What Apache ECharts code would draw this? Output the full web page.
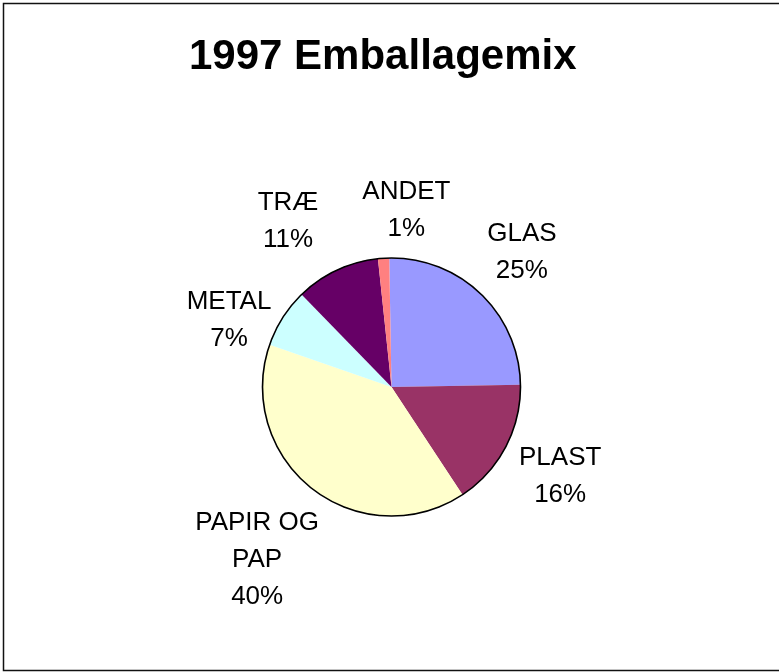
<!DOCTYPE html>
<html>
<head>
<meta charset="utf-8">
<script src="https://cdn.jsdelivr.net/npm/echarts@6/dist/echarts.min.js"></script>
<style>
html,body{margin:0;padding:0;background:#fff;}
#chart{width:779px;height:672px;}
</style>
</head>
<body>
<div id="chart"></div>
<script>
const titleText = '1997 Emballagemix';
const categories = ['GLAS', 'PLAST', 'PAPIR OG PAP', 'METAL', 'TRÆ', 'ANDET'];
const values = [25.0, 16.0, 39.6, 7.4, 10.6, 1.4];
const colors = ['#9999FF', '#993366', '#FFFFCC', '#CCFFFF', '#660066', '#FF8080'];

const chart = echarts.init(document.getElementById('chart'), null, {renderer: 'canvas'});
const data = categories.map((c, i) => ({name: c, value: values[i], itemStyle: {color: colors[i]}}));
const cx = 391.5, cy = 387, R = 129, GAP = 8, GAP_X = 44, GAP_Y = 25;

function wrapName(name) {
  if (name.length <= 8) return name;
  const k = name.lastIndexOf(' ');
  return k > 0 ? name.slice(0, k) + '\n' + name.slice(k + 1) : name;
}

const store = {};
let resolved = null;

function resolveOverlaps(s) {
  const ids = Object.keys(s);
  const L = ids.map(id => Object.assign({id: id}, s[id]));
  for (let it = 0; it < 6; it++) {
    for (let a = 0; a < L.length; a++) {
      for (let b = a + 1; b < L.length; b++) {
        const A = L[a], B = L[b];
        const aTop = A.uy < -0.8, bTop = B.uy < -0.8;
        const yOver = Math.min(A.y + A.h / 2, B.y + B.h / 2) - Math.max(A.y - A.h / 2, B.y - B.h / 2);
        const xGap = Math.max(A.x - A.w / 2, B.x - B.w / 2) - Math.min(A.x + A.w / 2, B.x + B.w / 2);
        if (aTop && bTop) {
          if (yOver > 0 && xGap < GAP_X) {
            const d = (GAP_X - xGap) / 2;
            const left = A.x < B.x ? A : B, right = A.x < B.x ? B : A;
            left.x -= d; right.x += d;
          }
        } else if (aTop !== bTop) {
          const T = aTop ? A : B, S = aTop ? B : A;
          if (xGap < 10) {
            const yGap = S.y > T.y ? (S.y - S.h / 2) - (T.y + T.h / 2) : (T.y - T.h / 2) - (S.y + S.h / 2);
            if (yGap < GAP_Y) {
              S.y += (S.y > T.y ? 1 : -1) * (GAP_Y - yGap);
            }
          }
        }
      }
    }
  }
  const out = {};
  L.forEach(l => { out[l.id] = l; });
  return out;
}

const option = {
  backgroundColor: '#fff',
  animation: false,
  title: {
    text: titleText,
    left: 189,
    top: 36,
    padding: 0,
    textStyle: {fontFamily: 'Liberation Sans', fontWeight: 'bold', fontSize: 42, color: '#000'}
  },
  graphic: [
    {type: 'rect', shape: {x: 3.5, y: 3.5, width: 800, height: 667}, style: {fill: 'none', stroke: '#111', lineWidth: 1.5}, silent: true},
    {type: 'circle', shape: {cx: cx, cy: cy, r: R}, style: {fill: 'none', stroke: '#000', lineWidth: 1.6}, silent: true, z: 100}
  ],
  series: [
    {
      type: 'pie',
      center: [cx, cy],
      radius: [0, R],
      startAngle: 91,
      clockwise: true,
      silent: true,
      avoidLabelOverlap: false,
      percentPrecision: 0,
      itemStyle: {borderWidth: 0},
      labelLine: {show: true, length: 20, length2: 0, lineStyle: {width: 0, opacity: 0}},
      label: {
        show: true,
        position: 'outside',
        alignTo: 'none',
        formatter: function (p) { return wrapName(p.name) + '\n' + p.percent + '%'; },
        fontFamily: 'Liberation Sans',
        fontSize: 26,
        lineHeight: 37,
        color: '#000',
        align: 'center'
      },
      labelLayout: function (p) {
        if (resolved && resolved[p.dataIndex]) {
          const r = resolved[p.dataIndex];
          return {x: r.x, y: r.y, align: 'center', verticalAlign: 'middle'};
        }
        const pts = p.labelLinePoints;
        if (!pts) return {};
        let ux = pts[0][0] - cx, uy = pts[0][1] - cy;
        const len = Math.sqrt(ux * ux + uy * uy) || 1;
        ux /= len; uy /= len;
        const w = p.labelRect.width, h = p.labelRect.height;
        const ext = Math.abs(ux) * w / 2 + Math.abs(uy) * h / 2;
        const d = R + GAP + ext;
        const x = cx + ux * d, y = cy + uy * d;
        store[p.dataIndex] = {x: x, y: y, w: w, h: h, uy: uy};
        return {x: x, y: y, align: 'center', verticalAlign: 'middle'};
      },
      data: data
    }
  ]
};

chart.setOption(option);
resolved = resolveOverlaps(store);
chart.setOption(option, true);
</script>
</body>
</html>
